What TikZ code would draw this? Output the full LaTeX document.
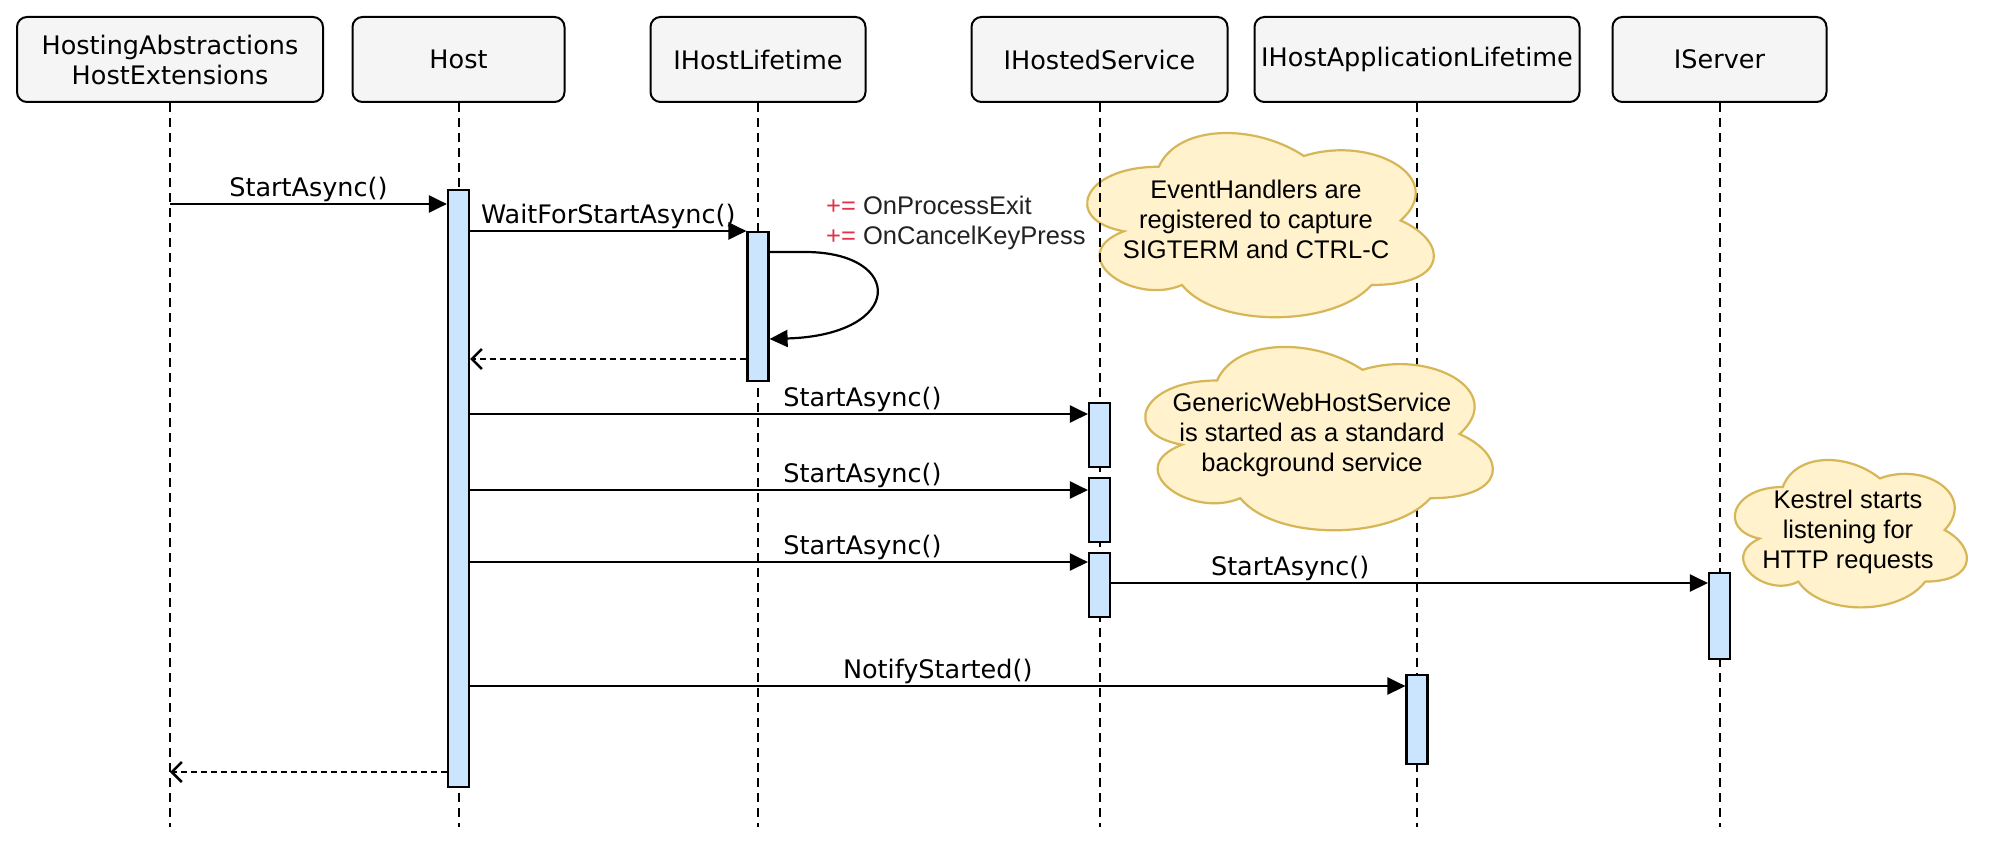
\documentclass[tikz,border=0pt]{standalone}
\usepackage{fontspec}
\setmainfont{DejaVu Sans}
\newfontfamily\helv{Liberation Sans}
\usetikzlibrary{arrows.meta}
\definecolor{hdrfill}{HTML}{F5F5F5}
\definecolor{barfill}{HTML}{CCE5FF}
\definecolor{cloudfill}{HTML}{FFF2CC}
\definecolor{cloudline}{HTML}{D6B656}
\definecolor{plusred}{HTML}{E0334A}
\definecolor{evtext}{HTML}{222222}
\newcommand\mycloud[4]{%
  \begin{scope}[shift={(#1,#2)},xscale=#3,yscale=#4]
    \filldraw[cloudst] (0.25,0.25) .. controls (0.05,0.25) and (0,0.5) .. (0.16,0.55)
      .. controls (0,0.66) and (0.18,0.9) .. (0.31,0.8)
      .. controls (0.4,1) and (0.7,1) .. (0.8,0.8)
      .. controls (1,0.8) and (1,0.6) .. (0.875,0.5)
      .. controls (1,0.3) and (0.8,0.1) .. (0.625,0.2)
      .. controls (0.5,0.05) and (0.3,0.05) .. (0.25,0.25) -- cycle;
  \end{scope}}
\begin{document}
\begin{tikzpicture}[x=1pt,y=-1pt,
  font=\fontsize{25.5}{30}\selectfont,
  hdr/.style={draw, line width=2pt, fill=hdrfill, rounded corners=10pt, minimum height=85pt, inner sep=0pt, align=center},
  bar/.style={draw, line width=2.2pt, fill=barfill, minimum width=21pt, inner sep=0pt, anchor=north},
  life/.style={line width=2pt, dash pattern=on 9pt off 6pt},
  msg/.style={line width=2.8pt, -{Triangle[length=18pt,width=17pt]}},
  ret/.style={line width=2.5pt, dash pattern=on 6pt off 4pt, -{Straight Barb[length=10pt,width=20pt]}},
  lbl/.style={anchor=base, yshift=8pt, inner sep=0pt},
  cloudst/.style={fill=cloudfill, draw=cloudline, line width=2.2pt},
  note/.style={font=\helv\fontsize{25.5}{30}\selectfont, align=center, inner sep=0pt}]
\fill[white] (0,0) rectangle (2000,856);
\useasboundingbox (0,0) rectangle (2000,856);

% headers
\node[hdr, minimum width=306pt] (h1) at (170,59.5) {HostingAbstractions\\HostExtensions};
\node[hdr, minimum width=212pt] (h2) at (458.5,59.5) {Host};
\node[hdr, minimum width=215pt] (h3) at (758,59.5) {IHostLifetime};
\node[hdr, minimum width=256pt] (h4) at (1099.5,59.5) {IHostedService};
\node[hdr, minimum width=325pt] (h5) at (1417,59.5) {IHostApplicationLifetime};
\node[hdr, minimum width=214pt] (h6) at (1719.5,59.5) {IServer};

% lifelines
\coordinate (e1) at (h1 |- 0,827);
\coordinate (e2) at (h2 |- 0,827);
\coordinate (e3) at (h3 |- 0,827);
\coordinate (e4) at (h4 |- 0,827);
\coordinate (e5) at (h5 |- 0,827);
\coordinate (e6) at (h6 |- 0,827);
\draw[life] (h1.south) -- (e1);
\draw[life] (h2.south) -- (e2);
\draw[life] (h3.south) -- (e3);
\draw[life] (h5.south) -- (e5);
\draw[life] (h6.south) -- (e6);

% clouds
\mycloud{1062}{113}{387}{215}
\mycloud{1120}{327}{388}{214}
\mycloud{1718}{444}{259}{172}
\draw[life] (h4.south) -- (e4);
\node[note] (c1t) at (1256,222) {EventHandlers are\strut\\registered to capture\strut\\SIGTERM and CTRL-C\strut};
\node[note] (c2t) at (1312,435) {GenericWebHostService\strut\\is started as a standard\strut\\background service\strut};
\node[note] (c3t) at (1848,532) {Kestrel starts\strut\\listening for\strut\\HTTP requests\strut};

% activation bars
\node[bar, minimum height=597pt] (hb) at (458.5,189) {};
\node[bar, minimum height=149pt] (ltb) at (758,231) {};
\node[bar, minimum height=64pt] (s1) at (1099.5,402) {};
\node[bar, minimum height=64pt] (s2) at (1099.5,477) {};
\node[bar, minimum height=64pt] (s3) at (1099.5,552) {};
\node[bar, minimum height=86pt] (sv) at (1719.5,572) {};
\node[bar, minimum height=89pt] (al) at (1417,674) {};

% messages
\draw[msg] (h1 |- 0,204) -- (hb.west |- 0,204) node[lbl, midway] {StartAsync()};
\draw[msg] (hb.east |- 0,231) -- (ltb.west |- 0,231) node[lbl, midway] {WaitForStartAsync()};
\draw[msg, line width=2.2pt] (ltb.east |- 0,252) -- (805,252) .. controls (905,252) and (905,335) .. (ltb.east |- 0,339);
\node[note, align=left, anchor=north west] (ev) at (826,193)
  {\textcolor{plusred}{+=} \textcolor{evtext}{OnProcessExit}\strut\\\textcolor{plusred}{+=} \textcolor{evtext}{OnCancelKeyPress}\strut};
\draw[ret] (ltb.west |- 0,359) -- (hb.east |- 0,359);
\draw[msg] (hb.east |- 0,414) -- (s1.west |- 0,414) node[lbl, pos=0.635] {StartAsync()};
\draw[msg] (hb.east |- 0,490) -- (s2.west |- 0,490) node[lbl, pos=0.635] {StartAsync()};
\draw[msg] (hb.east |- 0,562) -- (s3.west |- 0,562) node[lbl, pos=0.635] {StartAsync()};
\draw[msg] (s3.east |- 0,583) -- (sv.west |- 0,583) node[lbl, pos=0.30] {StartAsync()};
\draw[msg] (hb.east |- 0,686) -- (al.west |- 0,686) node[lbl, midway] {NotifyStarted()};
\draw[ret] (hb.west |- 0,772) -- (h1 |- 0,772);
\end{tikzpicture}
\end{document}
